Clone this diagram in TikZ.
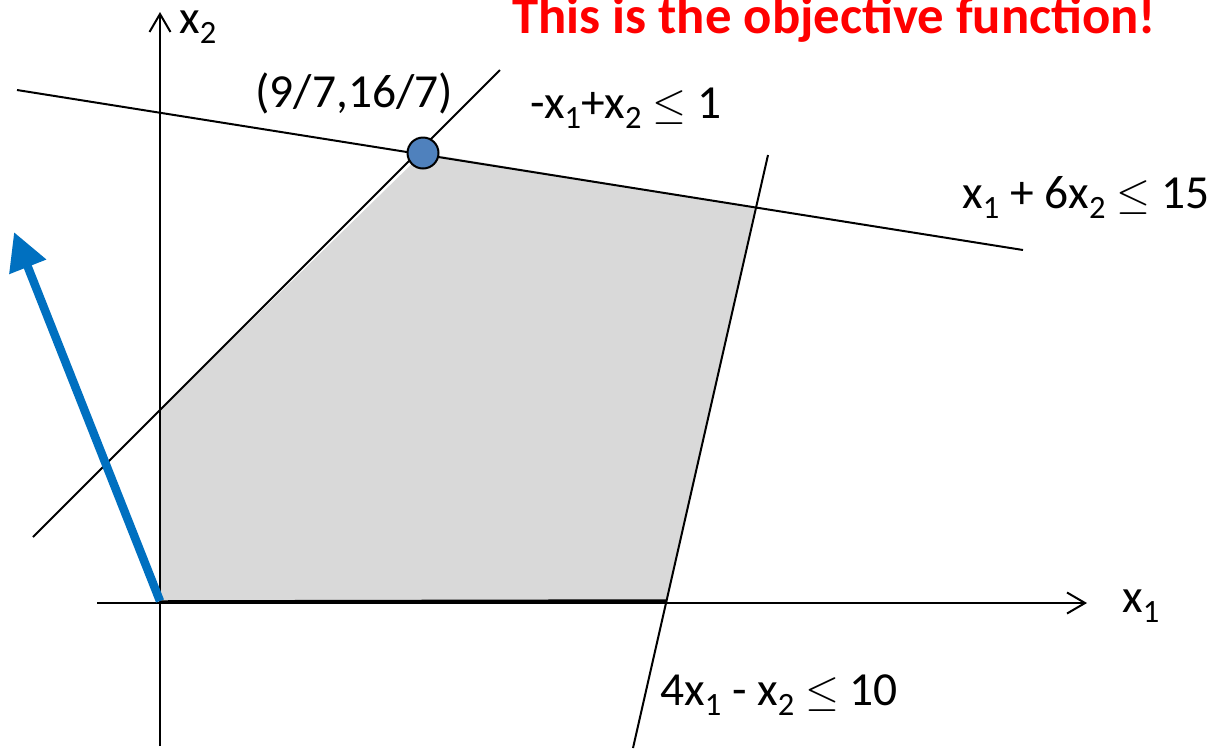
\documentclass[tikz,border=0pt]{standalone}
\usepackage{fontspec}
\setmainfont{Carlito}
\usetikzlibrary{arrows.meta, positioning}
\definecolor{regiongray}{HTML}{D9D9D9}
\definecolor{dotblue}{HTML}{4F81BD}
\definecolor{objblue}{HTML}{0070C0}
\newcommand{\xv}[1]{x\raisebox{-0.22em}{\fontsize{18.5}{18.5}\selectfont #1}}

\begin{document}
\begin{tikzpicture}[
    x=0.2mm, y=-0.2mm,
    constraint/.style={line width=0.4mm},
    axis/.style={line width=0.4mm, -{Straight Barb[length=3.6mm, width=4.2mm, line width=0.4mm]}},
    label/.style={anchor=base west, inner sep=0pt, font=\fontsize{27}{30}\selectfont},
    vertex/.style={circle, draw, line width=0.4mm, fill=dotblue, minimum size=6.2mm, inner sep=0pt},
    objective/.style={objblue, line width=1.7mm, -{Triangle[length=7.5mm, width=7.5mm]}}
]
\useasboundingbox (0,0) rectangle (1230,748);

% corners of the feasible region
\coordinate (o) at (160,602);
\coordinate (a) at (160,410);
\coordinate (b) at (423,153);
\coordinate (c) at (755,207);
\coordinate (d) at (667,601);
\fill[regiongray] (o) -- (a) -- (b) -- (c) -- (d) -- cycle;
\draw[constraint] (o) -- (a);
\draw[line width=0.7mm] (o) -- (d);

% axes
\coordinate (x1s) at (97,603);
\coordinate (x1e) at (1087,603);
\coordinate (x2s) at (160,746);
\coordinate (x2e) at (160,12);
\draw[axis] (x1s) -- (x1e);
\draw[axis] (x2s) -- (x2e);

% constraint lines
\coordinate (l1s) at (17,90);
\coordinate (l1e) at (1023,250);
\coordinate (l2s) at (33,537);
\coordinate (l2e) at (500,70);
\coordinate (l3s) at (768,155);
\coordinate (l3e) at (633,748);
\draw[constraint] (l1s) -- (l1e);
\draw[constraint] (l2s) -- (l2e);
\draw[constraint] (l3s) -- (l3e);

% objective direction
\coordinate (objs) at (160,601);
\coordinate (obje) at (14,232);
\draw[objective] (objs) -- (obje);

\node[vertex] (opt) at (b) {};

% labels
\node[label] (x1lab) at (1122,612) {\xv{1}};
\node[label] (x2lab) at (179,33) {\xv{2}};
\node[label] (optlab) at (255,107) {(9/7,16/7)};
\node[label] (c2lab) at (530,118) {-\xv{1}+\xv{2} $\leq$ 1};
\node[label] (c1lab) at (962,208) {\xv{1} + 6\xv{2} $\leq$ 15};
\node[label] (c3lab) at (660,705) {4\xv{1} - \xv{2} $\leq$ 10};
\node[label, text=red, font=\fontsize{30}{34}\selectfont\bfseries] (title) at (512,33) {This is the objective function!};

\end{tikzpicture}
\end{document}
